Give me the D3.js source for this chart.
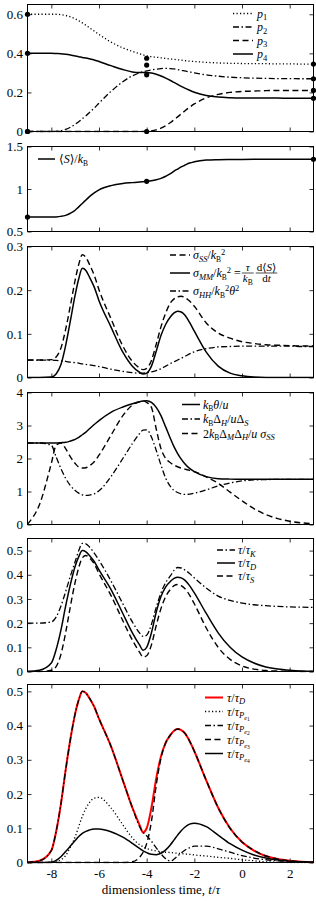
<!DOCTYPE html>
<html><head><meta charset="utf-8">
<script src="https://cdn.jsdelivr.net/npm/d3@7"></script>
<style>
body{margin:0;background:#fff}
svg{display:block}
text{font-family:"Liberation Serif","DejaVu Serif",serif;fill:#000}
</style>
</head><body>
<svg id="c" width="316" height="901" font-family="Liberation Serif, DejaVu Serif, serif"></svg>
<script>
// ---------- data ----------
const T = [-9,-8.5,-8,-7.8,-7.6,-7.4,-7.2,-7,-6.85,-6.7,-6.55,-6.4,-6.2,-6,-5.5,-5,-4.6,-4.3,-4.15,-4,-3.8,-3.6,-3.4,-3.2,-3,-2.85,-2.7,-2.55,-2.4,-2.2,-2,-1.5,-1,-0.5,0,0.5,1,1.5,2,2.5,3];

const p1 = [0.6,0.6,0.6,0.6,0.598,0.594,0.587,0.577,0.567,0.556,0.544,0.531,0.514,0.497,0.458,0.428,0.41,0.398,0.392,0.387,0.383,0.38,0.377,0.374,0.371,0.369,0.367,0.365,0.363,0.36,0.358,0.354,0.351,0.349,0.348,0.347,0.347,0.346,0.346,0.345,0.345];
const p2 = [0,0,0,0.001,0.004,0.011,0.022,0.037,0.05,0.065,0.08,0.097,0.12,0.145,0.205,0.255,0.285,0.3,0.306,0.31,0.315,0.319,0.322,0.323,0.322,0.32,0.317,0.314,0.31,0.305,0.3,0.29,0.283,0.278,0.275,0.273,0.272,0.271,0.271,0.27,0.27];
const p3 = [0,0,0,0,0,0,0,0,0,0,0,0,0,0,0,0,0,0,0,0.001,0.003,0.008,0.017,0.03,0.046,0.06,0.075,0.09,0.105,0.124,0.141,0.172,0.19,0.2,0.205,0.207,0.209,0.21,0.21,0.21,0.21];
const p4 = [0.4,0.4,0.4,0.399,0.398,0.395,0.391,0.386,0.383,0.379,0.376,0.372,0.366,0.358,0.337,0.317,0.305,0.302,0.302,0.302,0.299,0.293,0.284,0.273,0.261,0.251,0.241,0.231,0.222,0.211,0.201,0.184,0.176,0.173,0.172,0.172,0.171,0.171,0.17,0.17,0.17];
const pDotX = [-9,-4,3];
const pDotY = [[0.6,0.4,0,0],[0.375,0.34,0.29,0],[0.345,0.27,0.21,0.17]];

const S = [0.67,0.67,0.67,0.672,0.678,0.69,0.715,0.75,0.79,0.83,0.87,0.91,0.955,0.99,1.04,1.065,1.075,1.082,1.086,1.09,1.097,1.108,1.125,1.15,1.18,1.21,1.235,1.26,1.28,1.305,1.32,1.34,1.345,1.347,1.348,1.349,1.35,1.35,1.35,1.35,1.35];
const sDotX = [-9,-4,3];
const sDotY = [0.67,1.09,1.35];

const sigSS = [0.04,0.04,0.041,0.047,0.067,0.11,0.165,0.223,0.259,0.281,0.275,0.259,0.234,0.201,0.135,0.072,0.037,0.022,0.018,0.021,0.039,0.076,0.116,0.148,0.171,0.18,0.185,0.186,0.183,0.175,0.163,0.125,0.102,0.09,0.082,0.078,0.075,0.074,0.073,0.072,0.072];
const sigMM = [0,0,0.001,0.008,0.029,0.073,0.13,0.189,0.226,0.25,0.245,0.23,0.207,0.176,0.116,0.058,0.026,0.012,0.008,0.01,0.026,0.06,0.096,0.122,0.139,0.148,0.152,0.15,0.143,0.126,0.106,0.058,0.026,0.01,0.004,0.001,0,0,0,0,0];
const sigHH = [0.04,0.04,0.04,0.039,0.038,0.037,0.035,0.034,0.033,0.031,0.03,0.029,0.027,0.025,0.019,0.014,0.011,0.01,0.01,0.011,0.013,0.016,0.02,0.026,0.032,0.036,0.04,0.044,0.048,0.054,0.059,0.066,0.07,0.071,0.072,0.072,0.072,0.072,0.072,0.071,0.071];

const thetaU = [2.47,2.47,2.47,2.47,2.48,2.49,2.53,2.58,2.64,2.72,2.8,2.9,3.03,3.15,3.4,3.56,3.66,3.72,3.74,3.75,3.7,3.55,3.3,2.95,2.6,2.35,2.15,1.98,1.84,1.7,1.6,1.45,1.39,1.375,1.37,1.37,1.37,1.37,1.37,1.37,1.37];
const dHdS = [2.47,2.47,2.4,2.05,1.7,1.4,1.18,1.03,0.95,0.9,0.88,0.89,0.93,1.02,1.45,2.0,2.45,2.75,2.86,2.87,2.65,2.25,1.8,1.4,1.15,1.03,0.97,0.93,0.91,0.92,0.95,1.05,1.17,1.26,1.32,1.35,1.36,1.37,1.37,1.37,1.37];
const dMdH = [0.01,0.6,1.85,2.4,2.47,2.3,2.05,1.85,1.74,1.71,1.72,1.78,1.9,2.1,2.7,3.3,3.62,3.72,3.74,3.7,3.55,2.9,2.3,2.0,1.87,1.8,1.75,1.71,1.68,1.64,1.6,1.44,1.25,0.98,0.72,0.48,0.3,0.18,0.1,0.05,0.02];

const tauK = [0.2,0.2,0.205,0.225,0.27,0.33,0.395,0.455,0.5,0.53,0.528,0.515,0.49,0.46,0.375,0.28,0.205,0.16,0.145,0.15,0.195,0.265,0.325,0.368,0.396,0.418,0.43,0.428,0.42,0.405,0.387,0.345,0.312,0.294,0.283,0.276,0.272,0.269,0.267,0.266,0.265];
const tauD = [0,0.005,0.035,0.09,0.17,0.27,0.36,0.435,0.475,0.5,0.495,0.48,0.455,0.42,0.34,0.24,0.16,0.11,0.088,0.1,0.16,0.245,0.31,0.35,0.373,0.385,0.39,0.387,0.378,0.355,0.325,0.24,0.16,0.1,0.06,0.035,0.019,0.01,0.005,0.002,0.001];
const tauS = [0,0,0.005,0.02,0.07,0.16,0.27,0.37,0.43,0.47,0.48,0.47,0.445,0.405,0.315,0.21,0.13,0.08,0.06,0.065,0.11,0.19,0.26,0.31,0.34,0.355,0.36,0.355,0.343,0.316,0.28,0.18,0.1,0.05,0.023,0.01,0.004,0.002,0.001,0,0];

const tauPe1 = [0,0,0.001,0.003,0.008,0.02,0.045,0.075,0.105,0.135,0.158,0.175,0.188,0.19,0.16,0.11,0.072,0.052,0.046,0.041,0.037,0.034,0.032,0.03,0.029,0.028,0.027,0.026,0.025,0.024,0.022,0.019,0.015,0.012,0.008,0.005,0.002,0.001,0,0,0];
const tauPe2 = [0,0.005,0.035,0.09,0.17,0.27,0.36,0.435,0.475,0.5,0.495,0.48,0.455,0.42,0.34,0.24,0.16,0.105,0.088,0.078,0.062,0.043,0.025,0.011,0.004,0.01,0.019,0.028,0.036,0.043,0.048,0.048,0.04,0.03,0.02,0.013,0.008,0.005,0.003,0.001,0];
const tauPe3 = [0,0,0,0,0,0,0,0,0,0,0,0,0,0,0,0,0.002,0.015,0.03,0.055,0.12,0.225,0.305,0.35,0.373,0.385,0.39,0.387,0.378,0.355,0.325,0.24,0.16,0.1,0.06,0.035,0.019,0.01,0.005,0.002,0.001];
const tauPe4 = [0,0,0.001,0.006,0.017,0.032,0.048,0.064,0.076,0.085,0.091,0.095,0.098,0.098,0.09,0.074,0.056,0.041,0.034,0.029,0.024,0.023,0.027,0.037,0.052,0.066,0.08,0.093,0.103,0.112,0.115,0.105,0.08,0.055,0.036,0.022,0.013,0.007,0.004,0.002,0.001];

const xTicks = [-8,-6,-4,-2,0,2];
const yTicks1 = [0,0.2,0.4,0.6];
const yTicks2 = [0.5,1,1.5];
const yTicks3 = [0,0.1,0.2,0.3];
const yTicks4 = [0,1,2,3,4];
const yTicks5 = [0,0.1,0.2,0.3,0.4,0.5];
const yTicks6 = [0,0.1,0.2,0.3,0.4,0.5];

// ---------- drawing ----------
const FONT = 'Liberation Serif, DejaVu Serif, serif';
const svg = d3.select('#c');
const L = 27.5, R = 313.5;
const x = d3.scaleLinear().domain([-9,3]).range([L,R]);
const DASH = {solid:null, dashed:'6,3.5', dotted:'1.2,2.3', dashdot:'6,2.5,1.5,2.5'};
const LW = {solid:1.5, dashed:1.4, dotted:1.3, dashdot:1.3};
const LF = 12; // legend font size

function rich(g, xx, yy, parts, size, anchor) {
  const t = g.append('text').attr('x', xx).attr('y', yy).attr('font-size', size)
    .attr('font-family', FONT);
  if (anchor) t.attr('text-anchor', anchor);
  let cur = 0;
  parts.forEach(p => {
    const lv = p.s || 0;
    const ts = t.append('tspan').text(p.t).attr('dy', lv - cur)
      .attr('font-size', p.f || size).attr('font-style', p.i ? 'italic' : 'normal');
    if (p.dx) ts.attr('dx', p.dx);
    cur = lv;
  });
  return t;
}
function frac(g, x0, yc, num, den, size) {
  const n = rich(g, 0, yc - 2.5, num, size, 'middle');
  const d = rich(g, 0, yc + 9, den, size, 'middle');
  const w = Math.max(n.node().getComputedTextLength(), d.node().getComputedTextLength());
  const cx = x0 + w / 2 + 1;
  n.attr('x', cx); d.attr('x', cx);
  g.append('line').attr('x1', x0).attr('x2', x0 + w + 2).attr('y1', yc).attr('y2', yc)
    .attr('stroke', '#000').attr('stroke-width', 0.7);
  return x0 + w + 2;
}

const kB = [{t:'k',i:1},{t:'B',s:2.5,f:7.5}];
const kB2 = [{t:'k',i:1},{t:'B',s:2.5,f:7.5},{t:'2',s:-4.5,f:8.5}];
const tauSub = (sub) => [{t:'τ',i:1},{t:'/'},{t:'τ',i:1}].concat(sub);
const pe = (n) => tauSub([{t:'P',i:1,s:2.5,f:8.5},{t:'e',i:1,s:4.5,f:6.5},{t:n,s:5.5,f:5.5}]);

const panels = [
  {top:4.5, bot:131.5, dom:[0,0.65], ticks:yTicks1,
   series:[{v:p1,s:'dotted'},{v:p2,s:'dashdot'},{v:p3,s:'dashed'},{v:p4,s:'solid'}],
   leg:{x1:233,x2:253,tx:257,rows:[13.5,27,40.5,54],items:[
     {s:'dotted',p:[{t:'p',i:1},{t:'1',s:2.5,f:8.5}]},
     {s:'dashdot',p:[{t:'p',i:1},{t:'2',s:2.5,f:8.5}]},
     {s:'dashed',p:[{t:'p',i:1},{t:'3',s:2.5,f:8.5}]},
     {s:'solid',p:[{t:'p',i:1},{t:'4',s:2.5,f:8.5}]}]}},
  {top:146.5, bot:231.5, dom:[0.5,1.5], ticks:yTicks2,
   series:[{v:S,s:'solid'}],
   leg:{x1:38,x2:55,tx:59,rows:[159],items:[
     {s:'solid',p:[{t:'⟨'},{t:'S',i:1},{t:'⟩/'}].concat(kB)}]}},
  {top:246.5, bot:377.5, dom:[0,0.3], ticks:yTicks3,
   series:[{v:sigSS,s:'dashed'},{v:sigMM,s:'solid'},{v:sigHH,s:'dashdot'}],
   leg:{x1:170,x2:190,tx:193,rows:[255,273,291],items:[
     {s:'dashed',p:[{t:'σ',i:1},{t:'SS',i:1,s:2.5,f:8.5},{t:'/'}].concat(kB2)},
     {s:'solid',special:true},
     {s:'dashdot',p:[{t:'σ',i:1},{t:'HH',i:1,s:2.5,f:8.5},{t:'/'}].concat(kB2).concat([{t:'θ',i:1},{t:'2',s:-4.5,f:8.5}])}]}},
  {top:392.5, bot:524.5, dom:[0,4], ticks:yTicks4,
   series:[{v:thetaU,s:'solid'},{v:dHdS,s:'dashdot'},{v:dMdH,s:'dashed'}],
   leg:{x1:182,x2:200,tx:203,rows:[404.5,419,433.5],items:[
     {s:'solid',p:kB.concat([{t:'θ',i:1},{t:'/'},{t:'u',i:1}])},
     {s:'dashdot',p:kB.concat([{t:'Δ'},{t:'H',i:1,s:2.5,f:8.5},{t:'/'},{t:'u',i:1},{t:'Δ'},{t:'S',i:1,s:2.5,f:8.5}])},
     {s:'dashed',p:[{t:'2'}].concat(kB).concat([{t:'Δ'},{t:'M',i:1,s:2.5,f:8.5},{t:'Δ'},{t:'H',i:1,s:2.5,f:8.5},{t:'/'},{t:'u',i:1},{t:' σ',i:1},{t:'SS',i:1,s:2.5,f:8.5}])}]}},
  {top:538.5, bot:671.5, dom:[0,0.55], ticks:yTicks5,
   series:[{v:tauK,s:'dashdot'},{v:tauD,s:'solid'},{v:tauS,s:'dashed'}],
   leg:{x1:217,x2:235,tx:238,rows:[550,563,576],items:[
     {s:'dashdot',p:tauSub([{t:'K',i:1,s:2.5,f:8.5}])},
     {s:'solid',p:tauSub([{t:'D',i:1,s:2.5,f:8.5}])},
     {s:'dashed',p:tauSub([{t:'S',i:1,s:2.5,f:8.5}])}]}},
  {top:684.5, bot:862.5, dom:[0,0.52], ticks:yTicks6,
   series:[{v:tauD,s:'solid',red:true},{v:tauPe1,s:'dotted'},{v:tauPe2,s:'dashdot'},{v:tauPe3,s:'dashed'},{v:tauPe4,s:'solid'}],
   leg:{x1:205,x2:223,tx:227,rows:[697.5,711.5,725.5,739.5,753.5],items:[
     {s:'solid',red:true,p:tauSub([{t:'D',i:1,s:2.5,f:8.5}])},
     {s:'dotted',p:pe('1')},
     {s:'dashdot',p:pe('2')},
     {s:'dashed',p:pe('3')},
     {s:'solid',p:pe('4')}]}}
];

panels.forEach((P, k) => {
  const g = svg.append('g');
  const y = d3.scaleLinear().domain(P.dom).range([P.bot, P.top]);
  const cid = 'clip' + k;
  svg.append('clipPath').attr('id', cid).append('rect')
    .attr('x', L - 1).attr('y', P.top - 1).attr('width', R - L + 2).attr('height', P.bot - P.top + 2);

  const fmt = d => String(d);
  const ax = g.append('g').attr('transform', `translate(${L},0)`)
    .call(d3.axisLeft(y).tickValues(P.ticks).tickSize(-4).tickPadding(4.5).tickFormat(fmt));
  g.append('g').attr('transform', `translate(${R},0)`)
    .call(d3.axisRight(y).tickValues(P.ticks).tickSize(-4).tickFormat(''));
  g.append('g').attr('transform', `translate(0,${P.top})`)
    .call(d3.axisTop(x).tickValues(xTicks).tickSize(-4).tickFormat(''));
  const bx = g.append('g').attr('transform', `translate(0,${P.bot})`)
    .call(d3.axisBottom(x).tickValues(xTicks).tickSize(-4).tickPadding(6)
      .tickFormat(k === panels.length - 1 ? fmt : ''));
  g.selectAll('.domain').remove();
  g.selectAll('.tick line').attr('stroke', '#000').attr('stroke-width', 0.8);
  g.selectAll('.tick text').attr('font-size', 13).attr('fill', '#000').attr('font-family', FONT);
  ax.attr('font-family', FONT); bx.attr('font-family', FONT);

  const line = d3.line().x((d, i) => x(T[i])).y(d => y(d)).curve(d3.curveMonotoneX);
  const sg = g.append('g').attr('clip-path', `url(#${cid})`);
  P.series.forEach(sr => {
    sg.append('path').attr('d', line(sr.v)).attr('fill', 'none')
      .attr('stroke', sr.red ? '#ff0000' : '#000')
      .attr('stroke-width', sr.red ? 2 : LW[sr.s])
      .attr('stroke-dasharray', DASH[sr.s]);
  });

  g.append('rect').attr('x', L).attr('y', P.top).attr('width', R - L).attr('height', P.bot - P.top)
    .attr('fill', 'none').attr('stroke', '#000').attr('stroke-width', 1);

  if (k === 0) {
    pDotX.forEach((xv, j) => pDotY[j].forEach(yv =>
      g.append('circle').attr('cx', x(xv)).attr('cy', y(yv)).attr('r', 2.6).attr('fill', '#000')));
  }
  if (k === 1) {
    sDotX.forEach((xv, j) =>
      g.append('circle').attr('cx', x(xv)).attr('cy', y(sDotY[j])).attr('r', 2.6).attr('fill', '#000'));
  }

  const lg = g.append('g');
  P.leg.items.forEach((it, j) => {
    const yc = P.leg.rows[j];
    lg.append('line').attr('x1', P.leg.x1).attr('x2', P.leg.x2).attr('y1', yc).attr('y2', yc)
      .attr('stroke', it.red ? '#ff0000' : '#000').attr('stroke-width', it.red ? 2 : LW[it.s])
      .attr('stroke-dasharray', DASH[it.s]);
    if (it.special) {
      const t = rich(lg, P.leg.tx, yc + 4, [{t:'σ',i:1},{t:'MM',i:1,s:2.5,f:8.5},{t:'/'}].concat(kB2).concat([{t:' = '}]), LF);
      let xx = P.leg.tx + t.node().getComputedTextLength() + 1;
      xx = frac(lg, xx, yc, [{t:'τ',i:1}], kB, 11);
      frac(lg, xx + 2, yc, [{t:'d⟨'},{t:'S',i:1},{t:'⟩'}], [{t:'d'},{t:'t',i:1}], 11);
    } else {
      rich(lg, P.leg.tx, yc + 4, it.p, LF);
    }
  });
});

rich(svg, 161, 894, [{t:'dimensionless time, '},{t:'t',i:1},{t:'/'},{t:'τ',i:1}], 13, 'middle');
</script>
</body></html>
